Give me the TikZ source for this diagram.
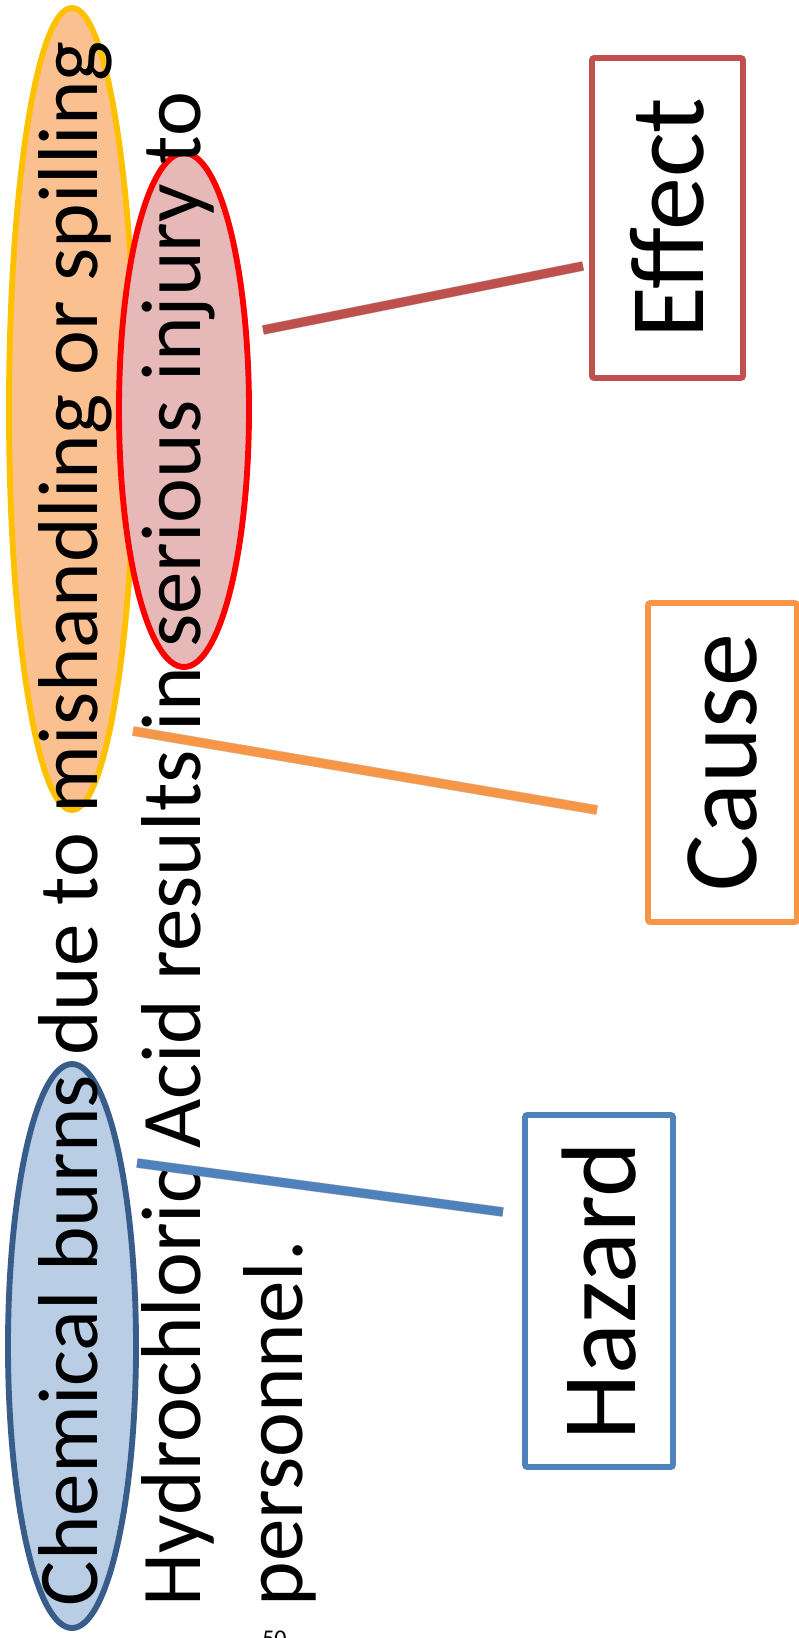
\documentclass[tikz,border=0pt]{standalone}
\usepackage{fontspec}
\setmainfont{Carlito}
\usetikzlibrary{shapes.geometric}

\definecolor{causeOrange}{HTML}{F79646}
\definecolor{effectRed}{HTML}{C0504D}
\definecolor{hazardBlue}{HTML}{4F81BD}
\definecolor{ringGold}{HTML}{FFC000}
\definecolor{fillPeach}{HTML}{FAC090}
\definecolor{fillRose}{HTML}{E6B9B8}
\definecolor{fillSky}{HTML}{B9CDE5}
\definecolor{ringNavy}{HTML}{385D8A}

\tikzset{
  oval/.style={ellipse, inner sep=0pt, outer sep=0pt, line width=4.4pt},
  sentence/.style={rotate=90, anchor=base west, inner sep=0pt, outer sep=0pt,
    font=\fontsize{63.75}{76}\selectfont},
  tagbox/.style={rectangle, rotate=90, draw, line width=4.2pt, fill=white,
    rounded corners=1.5pt, inner sep=0pt, minimum width=#1,
    font=\fontsize{79.5}{95}\selectfont},
  link/.style={line width=6.75pt},
  linkshadow/.style={line width=7.5pt, black, opacity=0.2}
}

\begin{document}
\begin{tikzpicture}[x=0.75pt,y=-0.75pt]
\useasboundingbox (0,0) rectangle (799,1638);
\clip (0,0) rectangle (799,1638);

% highlighted phrases
\node[oval, draw=ringGold, fill=fillPeach, minimum width=94.5pt, minimum height=601.5pt] (ovCause) at (72,409) {};
\node[oval, draw=red, fill=fillRose, minimum width=97.5pt, minimum height=385.5pt] (ovEffect) at (184,410) {};
\node[oval, draw=ringNavy, fill=fillSky, minimum width=96pt, minimum height=423pt] (ovHazard) at (72,1346) {};

% the statement, three lines
\node[sentence] (lineA) at (97,1606) {Chemical burns due to mishandling or spilling};
\node[sentence] (lineB) at (200,1606) {Hydrochloric Acid results in serious injury to};
\node[sentence] (lineC) at (302,1606) {personnel.};

% category boxes
\node[tagbox=240pt, draw=effectRed, minimum height=113.25pt] (boxEffect) at (667.5,218) {Effect};
\node[tagbox=239.25pt, draw=causeOrange, minimum height=111.75pt] (boxCause) at (722.5,762.5) {Cause};
\node[tagbox=264pt, draw=hazardBlue, minimum height=111pt] (boxHazard) at (599,1291) {Hazard};

% connector end points
\coordinate (effFrom) at (263,330);
\coordinate (effTo) at (583,266);
\coordinate (cauFrom) at (133,731);
\coordinate (cauTo) at (597,810);
\coordinate (hazFrom) at (137,1163);
\coordinate (hazTo) at (503,1212);

% soft shadows under the connectors
\begin{scope}[shift={(2,3)}]
  \draw[linkshadow] (effFrom) -- (effTo);
  \draw[linkshadow] (cauFrom) -- (cauTo);
  \draw[linkshadow] (hazFrom) -- (hazTo);
\end{scope}

% connectors
\draw[link, effectRed] (effFrom) -- (effTo);
\draw[link, causeOrange] (cauFrom) -- (cauTo);
\draw[link, hazardBlue] (hazFrom) -- (hazTo);

% page number
\node[anchor=base west, inner sep=0pt, font=\fontsize{18}{22}\selectfont] (pageNo) at (262,1646) {50};
\end{tikzpicture}
\end{document}
